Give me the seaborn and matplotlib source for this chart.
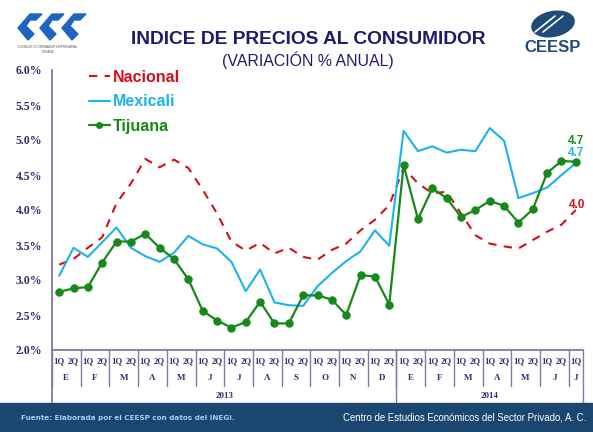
import numpy as np
import pandas as pd
import matplotlib
matplotlib.use("Agg")
import matplotlib.pyplot as plt
import seaborn as sns
from matplotlib.transforms import blended_transform_factory
from matplotlib.patches import Rectangle, Polygon, Ellipse
from matplotlib.lines import Line2D

# ---- data ----
nacional = [3.22, 3.30, 3.46, 3.61, 4.10, 4.38, 4.73, 4.61, 4.72, 4.60, 4.29, 3.95,
            3.55, 3.42, 3.53, 3.38, 3.46, 3.33, 3.29, 3.43, 3.52, 3.71, 3.86, 4.07,
            4.60, 4.38, 4.24, 4.26, 3.95, 3.64, 3.52, 3.48, 3.45, 3.57, 3.69, 3.79, 4.00]
mexicali = [3.06, 3.46, 3.33, 3.54, 3.75, 3.46, 3.34, 3.26, 3.39, 3.63, 3.51, 3.45,
            3.26, 2.84, 3.15, 2.68, 2.64, 2.63, 2.91, 3.10, 3.27, 3.41, 3.71, 3.49,
            5.13, 4.84, 4.91, 4.82, 4.86, 4.84, 5.17, 4.99, 4.17, 4.24, 4.32, 4.50, 4.67]
tijuana = [2.83, 2.88, 2.90, 3.25, 3.55, 3.55, 3.66, 3.46, 3.30, 3.01, 2.56, 2.42,
           2.32, 2.40, 2.69, 2.38, 2.38, 2.78, 2.78, 2.72, 2.50, 3.07, 3.05, 2.65,
           4.64, 3.87, 4.31, 4.17, 3.90, 4.00, 4.13, 4.06, 3.82, 4.01, 4.53, 4.70, 4.69]
quincenas = ['1Q', '2Q'] * 18 + ['1Q']
months = ['E', 'F', 'M', 'A', 'M', 'J', 'J', 'A', 'S', 'O', 'N', 'D',
          'E', 'F', 'M', 'A', 'M', 'J', 'J']
years = ['2013', '2014']
yticks = [2.0, 2.5, 3.0, 3.5, 4.0, 4.5, 5.0, 5.5, 6.0]
end_labels = ['4.7', '4.7', '4.0']

n = len(nacional)
df = pd.DataFrame({
    'x': list(range(n)) * 3,
    'valor': nacional + mexicali + tijuana,
    'serie': ['Nacional'] * n + ['Mexicali'] * n + ['Tijuana'] * n,
})

RED = '#d40f1a'
BLUE = '#1cb2ef'
GREEN = '#16891a'
NAVY = '#1c1c6e'
AXC = '#7c7cab'

sns.set_style('white')
plt.rcParams['font.family'] = ['Liberation Sans', 'DejaVu Sans']

W, H = 593, 432
fig = plt.figure(figsize=(W / 100, H / 100), dpi=100)
ax = fig.add_axes([52 / W, 1 - 350 / H, (583 - 52) / W, (350 - 70) / H])

sns.lineplot(data=df[df.serie == 'Nacional'], x='x', y='valor', ax=ax, color=RED,
             lw=1.5, dashes=False, legend=False)
ax.lines[-1].set_dashes([4, 3.5])
sns.lineplot(data=df[df.serie == 'Mexicali'], x='x', y='valor', ax=ax, color=BLUE,
             lw=1.5, legend=False)
sns.lineplot(data=df[df.serie == 'Tijuana'], x='x', y='valor', ax=ax, color=GREEN,
             lw=1.6, marker='o', markersize=5.3, markeredgecolor=GREEN, legend=False)

ax.set_xlim(-0.5, n - 0.5)
ax.set_ylim(2.0, 6.0)
ax.set_yticks(yticks)
ax.set_yticklabels([f'{v:.1f}%' for v in yticks], family='Liberation Serif',
                   fontweight='bold', fontsize=8.5, color='#2e2e6e')
ax.tick_params(axis='y', direction='out', length=4, color=AXC, width=1, pad=3)
ax.set_xticks(np.arange(-0.5, n, 1))
ax.set_xticklabels([])
ax.tick_params(axis='x', direction='in', length=2.5, color=AXC, width=0.8)
ax.set_xlabel('')
ax.set_ylabel('')
for s in ['top', 'right']:
    ax.spines[s].set_visible(False)
for s in ['left', 'bottom']:
    ax.spines[s].set_color(AXC)
    ax.spines[s].set_linewidth(1.3)

# ---- x table ----
tr = blended_transform_factory(ax.transData, fig.transFigure)
fy = lambda px: 1 - px / H
for i, q in enumerate(quincenas):
    ax.text(i, fy(361), q, transform=tr, ha='center', va='center',
            family='Liberation Serif', fontweight='bold', fontsize=6.3, color='#2e2e6e')
for k, m in enumerate(months):
    xc = 2 * k + 0.5 if 2 * k + 1 < n else 2 * k
    ax.text(xc, fy(378), m, transform=tr, ha='center', va='center',
            family='Liberation Serif', fontweight='bold', fontsize=6.5, color='#2e2e6e')
for k in range(len(months)):
    ax.add_line(Line2D([2 * k - 0.5] * 2, [fy(350), fy(386)], transform=tr,
                       color=AXC, lw=1, clip_on=False))
ax.add_line(Line2D([n - 0.5] * 2, [fy(350), fy(402)], transform=tr,
                   color=AXC, lw=1, clip_on=False))
ax.add_line(Line2D([-0.5] * 2, [fy(350), fy(402)], transform=tr,
                   color=AXC, lw=1.3, clip_on=False))
ax.add_line(Line2D([23.5] * 2, [fy(350), fy(402)], transform=tr,
                   color=AXC, lw=1, clip_on=False))
ax.text(11.5, fy(396), years[0], transform=tr, ha='center', va='center',
        family='Liberation Serif', fontweight='bold', fontsize=6.5, color='#2e2e6e')
ax.text(30, fy(396), years[1], transform=tr, ha='center', va='center',
        family='Liberation Serif', fontweight='bold', fontsize=6.5, color='#2e2e6e')

# ---- end labels ----
ax.text(n - 1, tijuana[-1] + 0.30, end_labels[0], ha='center', va='center',
        color=GREEN, fontweight='bold', fontsize=8.5)
ax.text(n - 1, mexicali[-1] + 0.145, end_labels[1], ha='center', va='center',
        color=BLUE, fontweight='bold', fontsize=8.5)
ax.text(n - 1 + 0.1, nacional[-1] + 0.07, end_labels[2], ha='center', va='center',
        color=RED, fontweight='bold', fontsize=8.5)

# ---- legend ----
handles = [Line2D([], [], color=RED, lw=1.5, dashes=[4, 3.5]),
           Line2D([], [], color=BLUE, lw=1.5),
           Line2D([], [], color=GREEN, lw=1.6, marker='o', markersize=4)]
leg = fig.legend(handles, ['Nacional', 'Mexicali', 'Tijuana'], loc='upper left',
                 bbox_to_anchor=(89 / W, fy(70)), bbox_transform=fig.transFigure,
                 frameon=False, borderpad=0, borderaxespad=0,
                 handlelength=1.3, handletextpad=0.2, labelspacing=0.58,
                 prop={'weight': 'bold', 'size': 11.5})
for t, c in zip(leg.get_texts(), [RED, BLUE, GREEN]):
    t.set_color(c)

# ---- titles ----
fig.text(308 / W, fy(40), 'INDICE DE PRECIOS AL CONSUMIDOR', ha='center', va='center',
         fontweight='bold', fontsize=13.8, color=NAVY)
fig.text(308 / W, fy(60), '(VARIACIÓN % ANUAL)', ha='center', va='center',
         fontsize=11.4, color=NAVY)

# ---- footer ----
FOOT = '#1b4670'
fig.patches.append(Rectangle((0, 0), 1, 29 / H, transform=fig.transFigure,
                             color=FOOT, zorder=0))
fig.text(21 / W, fy(418), 'Fuente: Elaborada por el CEESP con datos del INEGI.',
         ha='left', va='center', fontsize=5.2, fontweight='bold', color='#9fd0f5',
         family='DejaVu Sans')
fig.text(586 / W, fy(418), 'Centro de Estudios Económicos del Sector Privado, A. C.',
         ha='right', va='center', fontsize=6.9, color='white')

# ---- logos (approximate) ----
LB = '#1f64c0'
def pg(pts, color):
    fig.patches.append(Polygon([(x / W, fy(y)) for x, y in pts], closed=True,
                               transform=fig.transFigure, color=color, zorder=2))
for dx in [0, 22, 44]:
    pg([(18 + dx, 28), (30 + dx, 14), (42 + dx, 14), (36 + dx, 20), (30 + dx, 20),
        (26 + dx, 26), (34 + dx, 34), (28 + dx, 40)], LB)
fig.text(48 / W, fy(47), 'CONSEJO COORDINADOR EMPRESARIAL', ha='center', va='center',
         fontsize=2.2, color='#555555')
fig.text(48 / W, fy(52), 'TIJUANA', ha='center', va='center',
         fontsize=2.2, color='#555555')
CE = '#1e4b7a'
fig.patches.append(Ellipse((553 / W, fy(24)), 44 / W, 24 / H, angle=25,
                           transform=fig.transFigure, color=CE, zorder=2))
for off in [-5, 3]:
    fig.lines.append(Line2D([(540 + off) / W, (560 + off) / W], [fy(32), fy(16)],
                            transform=fig.transFigure, color='white', lw=1.2, zorder=3))
fig.text(553 / W, fy(47), 'CEESP', ha='center', va='center', fontsize=12,
         fontweight='bold', color=CE)

fig.savefig('out.png', dpi=100)
